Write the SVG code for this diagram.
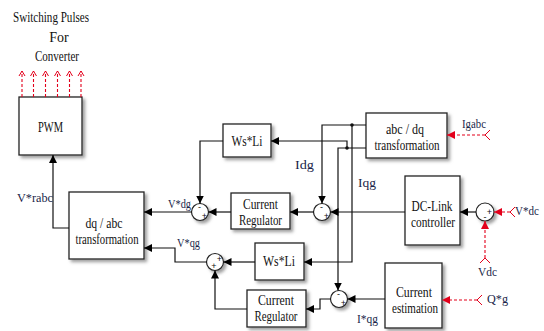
<svg xmlns="http://www.w3.org/2000/svg" width="544" height="331" viewBox="0 0 544 331">
<defs>
<filter id="sh" x="-20%" y="-20%" width="150%" height="150%">
<feDropShadow dx="2.5" dy="2.5" stdDeviation="1.5" flood-color="#777" flood-opacity="0.7"/>
</filter>
<marker id="ah" markerUnits="userSpaceOnUse" markerWidth="9" markerHeight="8" refX="8" refY="4" orient="auto">
<path d="M0,0 L8,4 L0,8 Z" fill="#000"/>
</marker>
<marker id="ahr" markerUnits="userSpaceOnUse" markerWidth="9" markerHeight="8" refX="8" refY="4" orient="auto">
<path d="M0,0 L8,4 L0,8 Z" fill="#e3001b"/>
</marker>
<marker id="aho" markerUnits="userSpaceOnUse" markerWidth="8" markerHeight="8" refX="6" refY="4" orient="auto">
<path d="M1,1 L6,4 L1,7" fill="none" stroke="#e3001b" stroke-width="1"/>
</marker>
</defs>
<style>
.box{fill:#fff;stroke:#222;stroke-width:1.3;filter:url(#sh)}
.sum{fill:#fff;stroke:#222;stroke-width:1.2;filter:url(#sh)}
.t{font-family:"Liberation Serif","Times New Roman",serif;font-size:14px;fill:#111;text-anchor:middle}
.l{font-family:"Liberation Serif","Times New Roman",serif;font-size:13px;fill:#1a1f4a}
.s{font-family:"Liberation Sans",Arial,sans-serif;font-size:9px;fill:#111;text-anchor:middle}
.c{fill:none;stroke:#111;stroke-width:1.2}
.r{fill:none;stroke:#e3001b;stroke-width:1.1;stroke-dasharray:3,2}
.tail{fill:none;stroke:#e3001b;stroke-width:1}
</style>

<g id="title">
<text class="t" x="51" y="22" font-size="12.5" textLength="76" lengthAdjust="spacingAndGlyphs">Switching Pulses</text>
<text class="t" x="59" y="41.5" font-size="12.5">For</text>
<text class="t" x="57" y="61" font-size="12.5" textLength="44" lengthAdjust="spacingAndGlyphs">Converter</text>
</g>

<g id="pwm">
<rect class="box" x="19" y="97" width="63" height="58"/>
<text class="t" x="50.5" y="132" textLength="25" lengthAdjust="spacingAndGlyphs">PWM</text>
</g>

<g id="dqabc">
<rect class="box" x="69" y="192" width="75" height="67"/>
<text class="t" x="104" y="228" textLength="37" lengthAdjust="spacingAndGlyphs">dq / abc</text>
<text class="t" x="107" y="244" textLength="63" lengthAdjust="spacingAndGlyphs">transformation</text>
</g>

<g id="wsli1">
<rect class="box" x="223" y="124" width="48" height="33"/>
<text class="t" x="247" y="146" textLength="31" lengthAdjust="spacingAndGlyphs">Ws*Li</text>
</g>

<g id="cr1">
<rect class="box" x="231" y="193" width="59" height="36"/>
<text class="t" x="260.5" y="209" textLength="35" lengthAdjust="spacingAndGlyphs">Current</text>
<text class="t" x="260.5" y="225" textLength="43" lengthAdjust="spacingAndGlyphs">Regulator</text>
</g>

<g id="abcdq">
<rect class="box" x="366" y="113" width="81" height="45"/>
<text class="t" x="405" y="134" textLength="38" lengthAdjust="spacingAndGlyphs">abc / dq</text>
<text class="t" x="407" y="150" textLength="65" lengthAdjust="spacingAndGlyphs">transformation</text>
</g>

<g id="dclink">
<rect class="box" x="405" y="176" width="55" height="69"/>
<text class="t" x="432" y="211" textLength="41" lengthAdjust="spacingAndGlyphs">DC-Link</text>
<text class="t" x="433" y="227" textLength="44" lengthAdjust="spacingAndGlyphs">controller</text>
</g>

<g id="wsli2">
<rect class="box" x="255" y="243" width="49" height="37"/>
<text class="t" x="279" y="266" textLength="32" lengthAdjust="spacingAndGlyphs">Ws*Li</text>
</g>

<g id="cr2">
<rect class="box" x="247" y="290" width="59" height="37"/>
<text class="t" x="276" y="305" textLength="36" lengthAdjust="spacingAndGlyphs">Current</text>
<text class="t" x="276" y="321" textLength="43" lengthAdjust="spacingAndGlyphs">Regulator</text>
</g>

<g id="cest">
<rect class="box" x="385" y="263" width="57" height="65"/>
<text class="t" x="414" y="297" textLength="36" lengthAdjust="spacingAndGlyphs">Current</text>
<text class="t" x="415" y="313" textLength="46" lengthAdjust="spacingAndGlyphs">estimation</text>
</g>

<g id="sum1">
<circle class="sum" cx="200" cy="212" r="8.5"/>
<text class="s" x="199.5" y="210">-</text>
<text class="s" x="204.5" y="218.5">+</text>
</g>
<g id="sum2">
<circle class="sum" cx="322" cy="212" r="8.5"/>
<text class="s" x="321.5" y="210">-</text>
<text class="s" x="326.5" y="218.5">+</text>
</g>
<g id="sum3">
<circle class="sum" cx="215" cy="262" r="8.5"/>
<text class="s" x="219.5" y="262">+</text>
<text class="s" x="214" y="269">+</text>
</g>
<g id="sum4">
<circle class="sum" cx="339" cy="299" r="8.5"/>
<text class="s" x="338.5" y="297">-</text>
<text class="s" x="343.5" y="305.5">+</text>
</g>
<g id="sum5">
<circle class="sum" cx="485" cy="212" r="9"/>
<text class="s" x="489.5" y="215">+</text>
<text class="s" x="485" y="220">-</text>
</g>

<g id="connectors">
<path class="c" d="M69,228 H53 V155" marker-end="url(#ah)"/>
<path class="c" d="M191.5,212 H144" marker-end="url(#ah)"/>
<path class="c" d="M206.5,262 H175 V248 H144" marker-end="url(#ah)"/>
<path class="c" d="M223,141 H200 V203.5" marker-end="url(#ah)"/>
<path class="c" d="M231,212 H208.5" marker-end="url(#ah)"/>
<path class="c" d="M313.5,212 H290" marker-end="url(#ah)"/>
<path class="c" d="M366,125 H322 V203.5" marker-end="url(#ah)"/>
<path class="c" d="M352,125 V262 H304" marker-end="url(#ah)"/>
<path class="c" d="M366,148 H338 V290.5" marker-end="url(#ah)"/>
<path class="c" d="M347,148 V141 H271" marker-end="url(#ah)"/>
<path class="c" d="M405,212 H330.5" marker-end="url(#ah)"/>
<path class="c" d="M476,212 H460" marker-end="url(#ah)"/>
<path class="c" d="M255,262 H223.5" marker-end="url(#ah)"/>
<path class="c" d="M247,309 H215 V270.5" marker-end="url(#ah)"/>
<path class="c" d="M330.5,299 H320 V309 H306" marker-end="url(#ah)"/>
<path class="c" d="M385,299 H347.5" marker-end="url(#ah)"/>
<circle cx="352" cy="125" r="1.8" fill="#111"/>
<circle cx="347" cy="148" r="1.8" fill="#111"/>

<path class="r" d="M22,97 V71" marker-end="url(#aho)"/>
<path class="r" d="M33.5,97 V71" marker-end="url(#aho)"/>
<path class="r" d="M45.5,97 V71" marker-end="url(#aho)"/>
<path class="r" d="M57.5,97 V71" marker-end="url(#aho)"/>
<path class="r" d="M69.5,97 V71" marker-end="url(#aho)"/>
<path class="r" d="M81,97 V71" marker-end="url(#aho)"/>

<path class="r" d="M485,135 H447" marker-end="url(#ahr)"/>
<path class="tail" d="M490,130 L485,135 L490,140"/>
<path class="r" d="M510,212 H494" marker-end="url(#ahr)"/>
<path class="tail" d="M515,207 L510,212 L515,217"/>
<path class="r" d="M485,258 V221" marker-end="url(#ahr)"/>
<path class="tail" d="M480,263 L485,258 L490,263"/>
<path class="r" d="M477,300 H442" marker-end="url(#ahr)"/>
<path class="tail" d="M482,295 L477,300 L482,305"/>
</g>

<g id="labels">
<text class="l" x="17" y="202" fill="#111" textLength="36" lengthAdjust="spacingAndGlyphs">V*rabc</text>
<text class="l" x="168" y="208" font-size="11" textLength="23" lengthAdjust="spacingAndGlyphs">V*dg</text>
<text class="l" x="177" y="247" font-size="11" textLength="23" lengthAdjust="spacingAndGlyphs">V*qg</text>
<text class="l" x="295" y="169" font-size="14" textLength="19" lengthAdjust="spacingAndGlyphs">Idg</text>
<text class="l" x="358" y="187" font-size="14" textLength="18" lengthAdjust="spacingAndGlyphs">Iqg</text>
<text class="l" x="462" y="128" font-size="12" textLength="24" lengthAdjust="spacingAndGlyphs">Igabc</text>
<text class="l" x="515" y="215" textLength="24" lengthAdjust="spacingAndGlyphs">V*dc</text>
<text class="l" x="478" y="276" textLength="19" lengthAdjust="spacingAndGlyphs">Vdc</text>
<text class="l" x="487" y="303" textLength="21" lengthAdjust="spacingAndGlyphs">Q*g</text>
<text class="l" x="357" y="323" fill="#3a1a4a" textLength="21" lengthAdjust="spacingAndGlyphs">I*qg</text>
</g>
</svg>
